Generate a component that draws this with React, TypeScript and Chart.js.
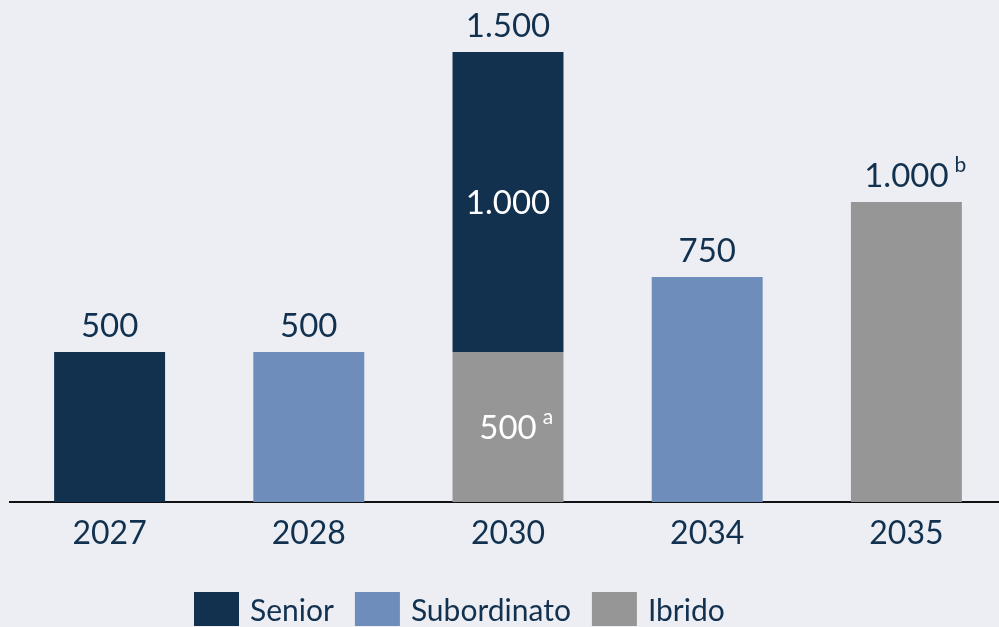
import React, { useEffect, useRef } from 'react';
import { Chart, registerables } from 'chart.js';

Chart.register(...registerables);

// ---- data ----
const categories = ['2027', '2028', '2030', '2034', '2035'];
const seriesLabels = ['Senior', 'Subordinato', 'Ibrido'];
const senior = [500, null, 1000, null, null];
const subordinato = [null, 500, null, 750, null];
const ibrido = [null, null, 500, null, 1000];
const seniorNotes = ['', '', '', '', ''];
const subordinatoNotes = ['', '', '', '', ''];
const ibridoNotes = ['', '', 'a', '', 'b'];

// ---- style ----
const BG = '#EDEEF3';
const NAVY = '#12314F';
const BLUE = '#6E8DBA';
const GRAY = '#969696';
const FONT = 'Lato, "Open Sans", sans-serif';

const fmt = (v: number) => String(v).replace(/\B(?=(\d{3})+(?!\d))/g, '.');

const bgPlugin = {
  id: 'bgFill',
  beforeDraw(chart: any) {
    const { ctx, width, height } = chart;
    ctx.save();
    ctx.fillStyle = BG;
    ctx.fillRect(0, 0, width, height);
    ctx.restore();
  },
};

function drawLabel(ctx: any, text: string, note: string, x: number, baseline: number, color: string) {
  ctx.fillStyle = color;
  ctx.font = `33px ${FONT}`;
  ctx.textAlign = 'center';
  ctx.textBaseline = 'alphabetic';
  ctx.fillText(text, x, baseline);
  if (note) {
    const w = ctx.measureText(text).width;
    ctx.font = `21px ${FONT}`;
    ctx.textAlign = 'left';
    ctx.fillText(note, x + w / 2 + 6, baseline - 15);
  }
}

const labelPlugin = {
  id: 'valueLabels',
  afterDatasetsDraw(chart: any) {
    const { ctx } = chart;
    const notes = [seniorNotes, subordinatoNotes, ibridoNotes];
    const metas = chart.getSortedVisibleDatasetMetas();
    ctx.save();
    categories.forEach((_, i) => {
      const segs: any[] = [];
      metas.forEach((meta: any) => {
        const v = chart.data.datasets[meta.index].data[i];
        if (v === null || v === undefined) return;
        const el = meta.data[i];
        const p = el.getProps(['x', 'y', 'base'], true);
        segs.push({ v, note: notes[meta.index][i], ...p });
      });
      if (!segs.length) return;
      const top = segs.reduce((a, b) => (b.y < a.y ? b : a));
      const total = segs.reduce((s, g) => s + g.v, 0);
      if (segs.length === 1) {
        drawLabel(ctx, fmt(total), segs[0].note, top.x, top.y - 15, NAVY);
      } else {
        segs.forEach((g) => {
          const cy = (g.y + g.base) / 2;
          drawLabel(ctx, fmt(g.v), g.note, g.x, cy + 11.8, '#FFFFFF');
        });
        drawLabel(ctx, fmt(total), '', top.x, top.y - 15, NAVY);
      }
    });
    ctx.restore();
  },
};

const legendPlugin = {
  id: 'customLegend',
  afterDraw(chart: any) {
    const { ctx } = chart;
    const colors = [NAVY, BLUE, GRAY];
    let x = 194;
    const boxTop = 592;
    const boxW = 45;
    const boxH = 34;
    const baseline = 621;
    ctx.save();
    ctx.font = `30px ${FONT}`;
    ctx.textBaseline = 'alphabetic';
    ctx.textAlign = 'left';
    seriesLabels.forEach((label, k) => {
      ctx.fillStyle = colors[k];
      ctx.fillRect(x, boxTop, boxW, boxH);
      ctx.fillStyle = NAVY;
      const tx = x + boxW + 11;
      ctx.fillText(label, tx, baseline);
      x = tx + ctx.measureText(label).width + 21;
    });
    ctx.restore();
  },
};

export default function App() {
  const ref = useRef<HTMLCanvasElement>(null);
  useEffect(() => {
    document.body.style.margin = '0';
    document.body.style.background = BG;
    const chart = new Chart(ref.current as HTMLCanvasElement, {
      type: 'bar',
      data: {
        labels: categories,
        datasets: [
          { label: seriesLabels[0], data: senior, backgroundColor: NAVY, order: 1 },
          { label: seriesLabels[1], data: subordinato, backgroundColor: BLUE, order: 1 },
          { label: seriesLabels[2], data: ibrido, backgroundColor: GRAY, order: 0 },
        ],
      },
      options: {
        animation: false,
        responsive: false,
        maintainAspectRatio: false,
        layout: { padding: { left: 10, right: 0, top: 22, bottom: 0 } },
        plugins: { legend: { display: false }, tooltip: { enabled: false } },
        datasets: { bar: { categoryPercentage: 1, barPercentage: 0.557 } },
        scales: {
          x: {
            stacked: true,
            grid: { display: false, drawTicks: false },
            border: { display: true, color: '#111111', width: 2 },
            ticks: { color: NAVY, font: { family: FONT, size: 32 }, padding: 12 },
            afterFit: (s: any) => {
              s.height = 125;
            },
          },
          y: { stacked: true, display: false, min: 0, max: 1600 },
        },
      } as any,
      plugins: [bgPlugin, labelPlugin, legendPlugin],
    });
    return () => chart.destroy();
  }, []);

  return (
    <div
      style={{
        position: 'fixed',
        left: 0,
        top: 0,
        width: 999,
        height: 627,
        overflow: 'hidden',
        background: BG,
      }}
    >
      <canvas ref={ref} width={1006} height={627} style={{ width: 1006, height: 627, display: 'block' }} />
    </div>
  );
}
